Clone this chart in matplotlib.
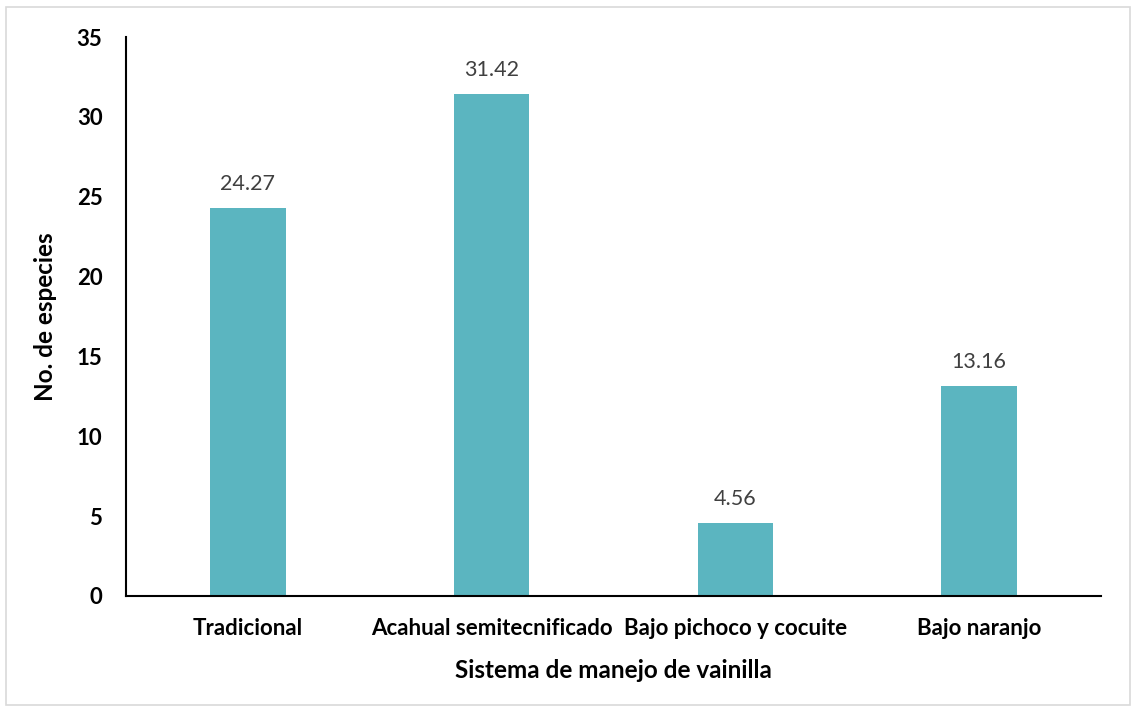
import matplotlib.pyplot as plt
import matplotlib.patches as mpatches

# === Data ===
categorias = ['Tradicional', 'Acahual semitecnificado', 'Bajo pichoco y cocuite', 'Bajo naranjo']
especies = [24.27, 31.42, 4.56, 13.16]
yticks = [0, 5, 10, 15, 20, 25, 30, 35]

plt.rcParams['font.family'] = ['Lato', 'DejaVu Sans']

fig = plt.figure(figsize=(11.32, 7.09), dpi=100)
ax = fig.add_axes([126 / 1132, 1 - 596 / 709, (1101 - 126) / 1132, (596 - 37) / 709])

x = range(len(categorias))
bars = ax.bar(x, especies, width=0.31, color='#5BB5C0', zorder=2)

for xi, v in zip(x, especies):
    ax.annotate(f'{v:.2f}', (xi, v), xytext=(0, 10), textcoords='offset points',
                ha='center', va='bottom', fontsize=15.5, color='#404040')

ax.set_xlim(-0.5, 3.5)
ax.set_ylim(0, 35)
ax.set_yticks(yticks)
ax.set_xticks(list(x))
ax.set_xticklabels(categorias, fontsize=16, fontweight='bold')
ax.set_yticklabels([str(t) for t in yticks], fontsize=16, fontweight='bold')
ax.tick_params(axis='x', length=0, pad=16)
ax.tick_params(axis='y', length=0, pad=17)

ax.spines['top'].set_visible(False)
ax.spines['right'].set_visible(False)
ax.spines['left'].set_linewidth(1.5)
ax.spines['bottom'].set_linewidth(1.5)

ax.set_xlabel('Sistema de manejo de vainilla', fontsize=17.5, fontweight='bold', labelpad=14)
ax.set_ylabel('No. de especies', fontsize=17.5, fontweight='bold', labelpad=14)

# light outer border like the chart area frame
fig.patches.append(mpatches.Rectangle((6 / 1132, 4 / 709), 1124 / 1132, 698 / 709,
                                      transform=fig.transFigure, fill=False,
                                      edgecolor='#D9D9D9', linewidth=1.2))

fig.savefig('out.png', dpi=100)
